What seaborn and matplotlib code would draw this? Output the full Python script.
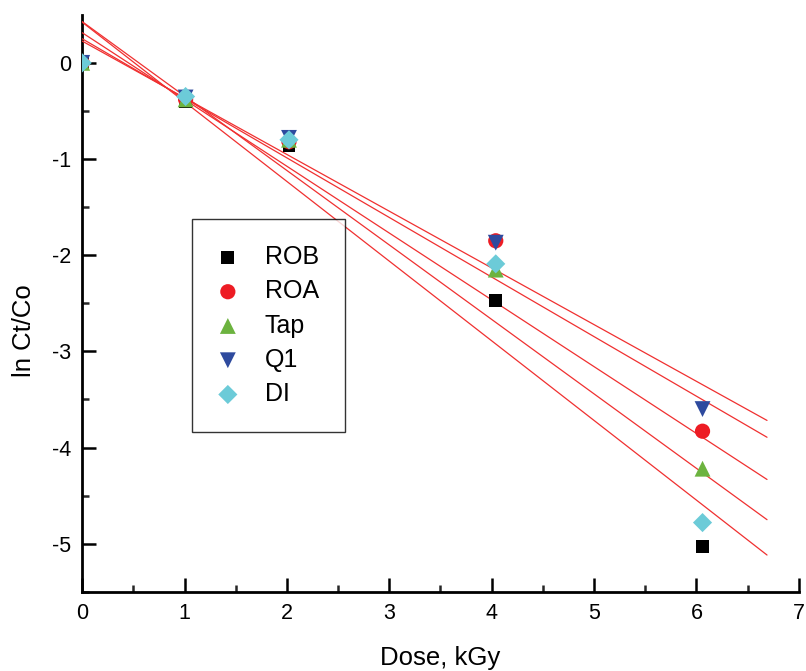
import numpy as np
import pandas as pd
import seaborn as sns
import matplotlib
matplotlib.use("Agg")
import matplotlib.pyplot as plt

dose = [0.0, 1.01, 2.02, 4.04, 6.06]
series_names = ["ROB", "ROA", "Tap", "Q1", "DI"]
rob = [0.0, -0.40, -0.86, -2.47, -5.03]
roa = [0.0, -0.38, -0.82, -1.85, -3.83]
tap = [0.0, -0.38, -0.80, -2.15, -4.22]
q1 = [0.0, -0.36, -0.78, -1.87, -3.60]
di = [0.0, -0.35, -0.80, -2.09, -4.78]
fit_end = 6.69

values = [rob, roa, tap, q1, di]
colors = {"ROB": "#000000", "ROA": "#ed1c24", "Tap": "#6cb33f", "Q1": "#2e4a9e", "DI": "#6ccbd8"}
markers = {"ROB": "s", "ROA": "o", "Tap": "^", "Q1": "v", "DI": "D"}
sizes = {"ROB": 85, "ROA": 120, "Tap": 130, "Q1": 130, "DI": 95}

rows = []
for name, vals in zip(series_names, values):
    for d, v in zip(dose, vals):
        rows.append({"Dose": d, "lnC": v, "Series": name})
df = pd.DataFrame(rows)

sns.set_style("ticks")
plt.rcParams["font.family"] = ["Liberation Sans", "DejaVu Sans"]
plt.rcParams["text.color"] = "black"
plt.rcParams["axes.labelcolor"] = "black"

fig = plt.figure(figsize=(8.06, 6.71), dpi=100)
ax = fig.add_axes([0.102, 0.118, 0.889, 0.860])

# regression lines
xs = np.array([0.0, fit_end])
for name, vals in zip(series_names, values):
    k, b = np.polyfit(dose, vals, 1)
    ax.plot(xs, k * xs + b, color="#f03030", lw=0.9, zorder=3)

for name in series_names:
    sub = df[df["Series"] == name]
    sns.scatterplot(data=sub, x="Dose", y="lnC", ax=ax, marker=markers[name],
                    color=colors[name], s=sizes[name], edgecolor="none",
                    label=name, zorder=4)

ax.set_xlim(0, 7)
ax.set_ylim(-5.5, 0.5)
ax.set_xticks(range(0, 8))
ax.set_yticks([0, -1, -2, -3, -4, -5])
ax.set_yticklabels(["0", "-1", "-2", "-3", "-4", "-5"])
ax.set_xticks(np.arange(0.5, 7, 1.0), minor=True)
ax.set_yticks(np.arange(-5.5, 0.5, 1.0), minor=True)
ax.tick_params(which="major", direction="in", length=10, width=1.8, labelsize=15.5, pad=8, colors="black")
ax.tick_params(which="minor", direction="in", length=5, width=1.8)
for s in ["top", "right"]:
    ax.spines[s].set_visible(False)
for s in ["left", "bottom"]:
    ax.spines[s].set_linewidth(2)
    ax.spines[s].set_color("black")

ax.set_xlabel("Dose, kGy", fontsize=18.5, labelpad=16)
ax.set_ylabel("ln Ct/Co", fontsize=18.5)
ax.yaxis.set_label_coords(-0.065, 0.452)

leg = ax.legend(loc="upper left", bbox_to_anchor=(0.153, 0.646), borderaxespad=0,
                fontsize=18, frameon=True, fancybox=False, edgecolor="black",
                labelspacing=0.41, handletextpad=1.08, handlelength=0.8,
                borderpad=1.04, markerscale=1.0)
leg.get_frame().set_linewidth(1.0)

fig.savefig("out.png", dpi=100)
